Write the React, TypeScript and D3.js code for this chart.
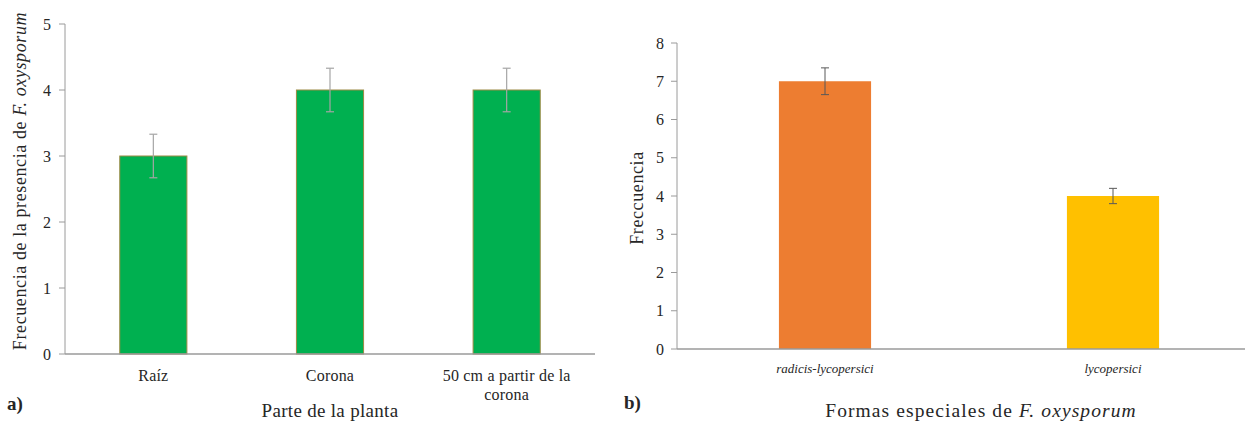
import React, { useEffect, useRef } from 'react';
import * as d3 from 'd3';

// panel a
const partes = ['Raíz', 'Corona', '50 cm a partir de la corona'];
const frecPartes = [3, 4, 4];
const errPartes = [0.33, 0.33, 0.33];
const ticksA = [0, 1, 2, 3, 4, 5];

// panel b
const formas = ['radicis-lycopersici', 'lycopersici'];
const frecFormas = [7, 4];
const errFormas = [0.35, 0.2];
const ticksB = [0, 1, 2, 3, 4, 5, 6, 7, 8];

const W = 1245;
const H = 421;
const FONT = "'Liberation Serif', 'DejaVu Serif', serif";
const TXT = '#262626';
const AXIS = '#9a9a9a';

function App() {
  const ref = useRef<SVGSVGElement>(null);

  useEffect(() => {
    const svg = d3.select(ref.current);
    svg.selectAll('*').remove();

    // ---------- panel a ----------
    const xa = d3.scaleBand().domain(partes).range([65, 595]).paddingInner(0.62).paddingOuter(0.31);
    const ya = d3.scaleLinear().domain([0, 5]).range([354, 24]);

    const ga = svg.append('g');
    ga.append('line')
      .attr('x1', 65).attr('x2', 65).attr('y1', ya(5)).attr('y2', ya(0))
      .attr('stroke', AXIS);
    ga.selectAll('.ta').data(ticksA).join('line')
      .attr('x1', 59).attr('x2', 65).attr('y1', d => ya(d)).attr('y2', d => ya(d))
      .attr('stroke', AXIS);
    ga.selectAll('.la').data(ticksA).join('text')
      .attr('x', 51).attr('y', d => ya(d) + 5.5)
      .attr('text-anchor', 'end').attr('font-size', 16).attr('fill', TXT)
      .text(d => d);

    ga.selectAll('rect').data(partes).join('rect')
      .attr('x', d => xa(d)!).attr('width', xa.bandwidth())
      .attr('y', (d, i) => ya(frecPartes[i])).attr('height', (d, i) => ya(0) - ya(frecPartes[i]))
      .attr('fill', '#00b050').attr('stroke', '#9c8a45').attr('stroke-width', 1);

    ga.append('line')
      .attr('x1', 65).attr('x2', 595).attr('y1', ya(0)).attr('y2', ya(0))
      .attr('stroke', AXIS).attr('stroke-width', 1.3);

    const eba = ga.append('g').attr('stroke', '#a5a5a5').attr('stroke-width', 1.2);
    partes.forEach((p, i) => {
      const cx = xa(p)! + xa.bandwidth() / 2;
      const t = ya(frecPartes[i] + errPartes[i]);
      const b = ya(frecPartes[i] - errPartes[i]);
      eba.append('line').attr('x1', cx).attr('x2', cx).attr('y1', t).attr('y2', b);
      eba.append('line').attr('x1', cx - 4).attr('x2', cx + 4).attr('y1', t).attr('y2', t);
      eba.append('line').attr('x1', cx - 4).attr('x2', cx + 4).attr('y1', b).attr('y2', b);
    });

    // x labels, wrapped
    partes.forEach(p => {
      const cx = xa(p)! + xa.bandwidth() / 2;
      const lines = p.length > 12 ? ['50 cm a partir de la', 'corona'] : [p];
      lines.forEach((l, j) => {
        ga.append('text')
          .attr('x', cx).attr('y', 381 + j * 19)
          .attr('text-anchor', 'middle').attr('font-size', 16).attr('letter-spacing', 0.2).attr('fill', TXT)
          .text(l);
      });
    });

    ga.append('text')
      .attr('x', 330).attr('y', 417)
      .attr('text-anchor', 'middle').attr('font-size', 19).attr('letter-spacing', 0.3).attr('fill', TXT)
      .text('Parte de la planta');

    ga.append('text')
      .attr('x', 7).attr('y', 410)
      .attr('font-size', 19).attr('font-weight', 'bold').attr('fill', TXT)
      .text('a)');

    const yta = ga.append('text')
      .attr('transform', `translate(26,${ya(2.5) - 8}) rotate(-90)`)
      .attr('text-anchor', 'middle').attr('font-size', 18).attr('letter-spacing', 0.6).attr('fill', TXT);
    yta.append('tspan').text('Frecuencia de la presencia de ');
    yta.append('tspan').attr('font-style', 'italic').text('F. oxysporum');

    // ---------- panel b ----------
    const xb = d3.scaleBand().domain(formas).range([681, 1257]).paddingInner(0.68).paddingOuter(0.34);
    const yb = d3.scaleLinear().domain([0, 8]).range([349, 43]);

    const gb = svg.append('g');
    gb.append('line')
      .attr('x1', 677).attr('x2', 677).attr('y1', yb(8)).attr('y2', yb(0))
      .attr('stroke', AXIS);
    gb.selectAll('.tb').data(ticksB).join('line')
      .attr('x1', 671).attr('x2', 677).attr('y1', d => yb(d)).attr('y2', d => yb(d))
      .attr('stroke', AXIS);
    gb.selectAll('.lb').data(ticksB).join('text')
      .attr('x', 664).attr('y', d => yb(d) + 5.5)
      .attr('text-anchor', 'end').attr('font-size', 16).attr('fill', TXT)
      .text(d => d);

    const colors = ['#ed7d31', '#ffc000'];
    gb.selectAll('rect').data(formas).join('rect')
      .attr('x', d => xb(d)!).attr('width', xb.bandwidth())
      .attr('y', (d, i) => yb(frecFormas[i])).attr('height', (d, i) => yb(0) - yb(frecFormas[i]))
      .attr('fill', (d, i) => colors[i]);

    gb.append('line')
      .attr('x1', 677).attr('x2', W).attr('y1', yb(0)).attr('y2', yb(0))
      .attr('stroke', AXIS).attr('stroke-width', 1.3);

    const ebb = gb.append('g').attr('stroke', '#595959').attr('stroke-width', 1);
    formas.forEach((f, i) => {
      const cx = xb(f)! + xb.bandwidth() / 2;
      const t = yb(frecFormas[i] + errFormas[i]);
      const b = yb(frecFormas[i] - errFormas[i]);
      ebb.append('line').attr('x1', cx).attr('x2', cx).attr('y1', t).attr('y2', b);
      ebb.append('line').attr('x1', cx - 4).attr('x2', cx + 4).attr('y1', t).attr('y2', t);
      ebb.append('line').attr('x1', cx - 4).attr('x2', cx + 4).attr('y1', b).attr('y2', b);
    });

    gb.selectAll('.xl').data(formas).join('text')
      .attr('x', d => xb(d)! + xb.bandwidth() / 2).attr('y', 373)
      .attr('text-anchor', 'middle').attr('font-size', 13).attr('font-style', 'italic')
      .attr('fill', TXT)
      .text(d => d);

    const xtb = gb.append('text')
      .attr('x', 981).attr('y', 417)
      .attr('text-anchor', 'middle').attr('font-size', 19.5).attr('letter-spacing', 1.1).attr('fill', TXT);
    xtb.append('tspan').text('Formas especiales de ');
    xtb.append('tspan').attr('font-style', 'italic').text('F. oxysporum');

    gb.append('text')
      .attr('x', 624).attr('y', 409)
      .attr('font-size', 19).attr('font-weight', 'bold').attr('fill', TXT)
      .text('b)');

    gb.append('text')
      .attr('transform', `translate(643,${yb(4) + 2}) rotate(-90)`)
      .attr('text-anchor', 'middle').attr('font-size', 18).attr('letter-spacing', 0.6).attr('fill', TXT)
      .text('Freccuencia');
  }, []);

  return (
    <svg
      ref={ref}
      width={W}
      height={H}
      style={{ position: 'absolute', left: 0, top: 0, background: '#fff', fontFamily: FONT }}
    />
  );
}

export default App;
